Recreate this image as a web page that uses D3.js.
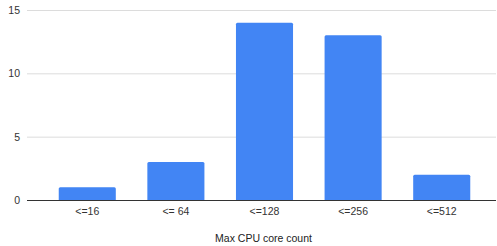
<!DOCTYPE html>
<html><head><meta charset="utf-8">
<script src="https://cdn.jsdelivr.net/npm/d3@7"></script>
<style>body{margin:0;background:#fff}svg{display:block}</style>
</head><body>
<svg id="c" width="497" height="246"></svg>
<script>
const categories = ["<=16", "<= 64", "<=128", "<=256", "<=512"];
const values = [1, 3, 14, 13, 2];
const yTicks = [0, 5, 10, 15];
const xTitle = "Max CPU core count";

(function () {
const svg = d3.select("#c");
const font = "Liberation Sans, Arial, sans-serif";
const mLeft = 27, mRight = 496, mTop = 10, mBottom = 200;

const x = d3.scaleBand().domain(categories).range([29.5, 499.5]).paddingInner(0.356).paddingOuter(0.33);
const y = d3.scaleLinear().domain([0, 15]).range([mBottom, mTop]);

const yAxis = d3.axisLeft(y).tickValues(yTicks).tickSize(-(mRight - mLeft)).tickPadding(7);
const gy = svg.append("g").attr("transform", `translate(${mLeft},0)`).call(yAxis);
gy.select(".domain").remove();
gy.selectAll(".tick line").attr("stroke", "#dcdcdc").attr("stroke-width", 1);
gy.selectAll(".tick text").attr("fill", "#333").style("font", `10.5px ${font}`);

svg.append("g").selectAll("path").data(values).join("path")
  .attr("fill", "#4285f4")
  .attr("d", (d, i) => {
    const x0 = x(categories[i]), w = x.bandwidth(), y0 = y(d), r = 1.5;
    return `M${x0},${mBottom}V${y0 + r}Q${x0},${y0} ${x0 + r},${y0}H${x0 + w - r}Q${x0 + w},${y0} ${x0 + w},${y0 + r}V${mBottom}Z`;
  });

const gx = svg.append("g").attr("transform", `translate(0,${mBottom})`).call(d3.axisBottom(x).tickSize(0).tickPadding(8));
gx.select(".domain").attr("d", `M${mLeft},0.5H${mRight}`).attr("stroke", "#333");
gx.selectAll(".tick text").attr("fill", "#333").style("font", `10.5px ${font}`);

svg.append("text").attr("x", (mLeft + mRight) / 2 + 2).attr("y", 242)
  .attr("text-anchor", "middle").attr("fill", "#222").style("font", `10.5px ${font}`).text(xTitle);
})();
</script>
</body></html>
